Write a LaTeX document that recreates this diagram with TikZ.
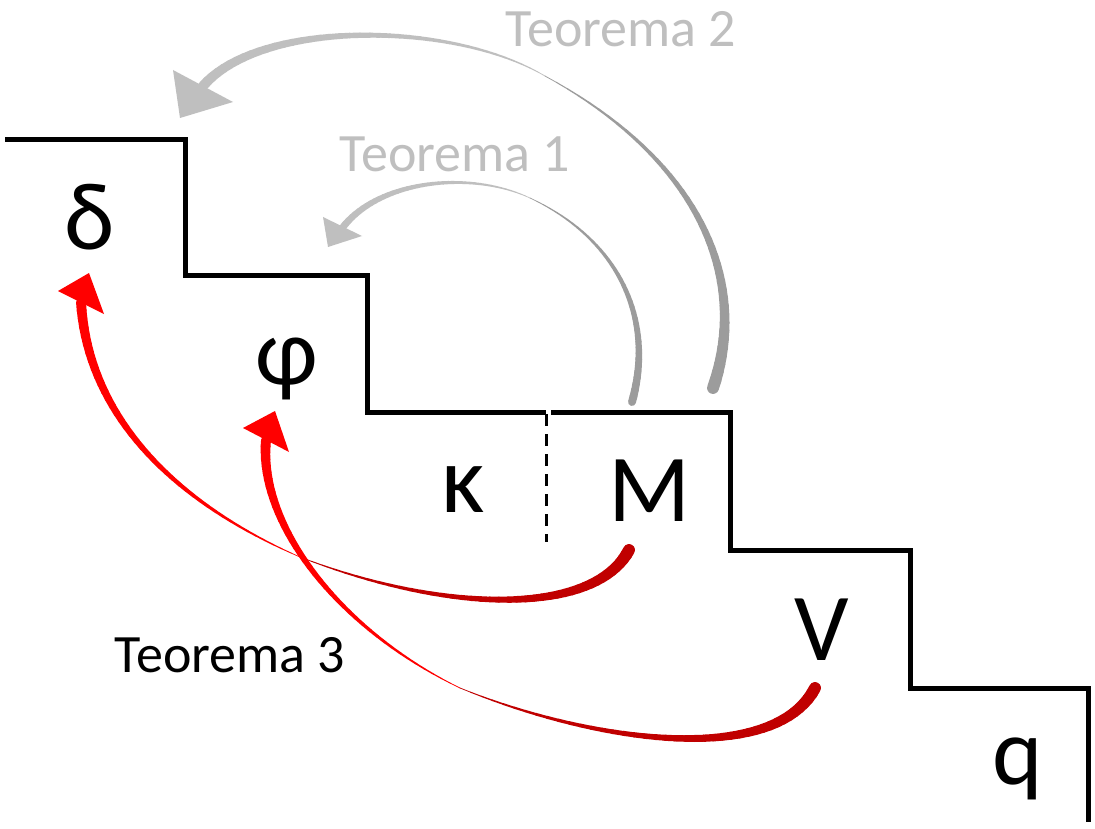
\documentclass[tikz,border=0pt]{standalone}
\usepackage{fontspec}
\setmainfont{Carlito}
\definecolor{gdark}{HTML}{9C9C9C}
\definecolor{glight}{HTML}{BFBFBF}
\definecolor{rdark}{HTML}{C00000}
\definecolor{rlight}{HTML}{FF0000}
\newcommand\taperseg[7]{%
  \foreach \i in {0,...,40}{\pgfmathsetmacro\tpos{\i/40}\path #1 .. controls #2 and #3 .. #4 coordinate[pos=\tpos] (tp\i);}%
  \foreach \i in {0,...,39}{%
    \pgfmathsetmacro\wd{#5+(#6-#5)*(\i+0.5)/40}%
    \pgfmathtruncatemacro\j{\i+1}%
    \draw[#7,line width=\wd pt,line cap=round] (tp\i) -- (tp\j);}%
}
\begin{document}
\begin{tikzpicture}[x=1pt,y=-1pt,
  big/.style={font=\fontsize{96}{100}\selectfont,anchor=base,inner sep=0pt},
  thm/.style={font=\fontsize{54}{58}\selectfont,anchor=base,inner sep=0pt},
  stair/.style={line width=5pt,line join=miter}]
\useasboundingbox (0,0) rectangle (1095,829);
\fill[white] (0,0) rectangle (1095,829);
% stairs
\draw[stair] (5,140) -- (185,140) -- (185,275) -- (367,275) -- (367,412) -- (546,412);
\draw[stair] (551,412) -- (730,412) -- (730,550) -- (910,550) -- (910,688) -- (1088,688) -- (1088,822);
\draw[line width=3pt,dash pattern=on 12pt off 8pt] (546,414) -- (546,542);
% labels
\node[big] (delta) at (90,250) {δ};
\node[big] (phi) at (287,384) {φ};
\node[big] (kappa) at (463,512) {κ};
\node[big] (M) at (650,521) {M};
\node[big] (V) at (822,660) {V};
\node[big] (q) at (1018,784) {q};
\node[thm,text=glight] (t2) at (621,47) {Teorema 2};
\node[thm,text=glight] (t1) at (455,172) {Teorema 1};
\node[thm] (t3) at (230,672) {Teorema 3};
% Teorema 2 arrow
\taperseg{(713,388)}{(750,280)}{(700,160)}{(545,76)}{12}{0.6}{gdark}
\taperseg{(545,76)}{(450,20)}{(260,20)}{(203,86)}{0.6}{10}{glight}
\fill[glight] (180,118) -- (173,70) -- (233,102) -- cycle;
% Teorema 1 arrow
\taperseg{(632,402)}{(655,320)}{(620,240)}{(530,198)}{8}{0.6}{gdark}
\taperseg{(530,198)}{(470,170)}{(380,180)}{(343,227)}{0.6}{7}{glight}
\fill[glight] (328,247) -- (323,217) -- (362,236) -- cycle;
% Teorema 3 arrows
\taperseg{(629,550)}{(595,615)}{(450,615)}{(300,557)}{12}{0.6}{rdark}
\taperseg{(300,557)}{(180,505)}{(88,420)}{(81,302)}{0.6}{10}{rlight}
\fill[rlight] (89,273) -- (58,291) -- (104,314) -- cycle;
\taperseg{(815,688)}{(775,765)}{(600,745)}{(460,688)}{12}{0.6}{rdark}
\taperseg{(460,688)}{(340,630)}{(258,525)}{(266,440)}{0.6}{10}{rlight}
\fill[rlight] (275,411) -- (243,428) -- (289,452) -- cycle;
\end{tikzpicture}
\end{document}
